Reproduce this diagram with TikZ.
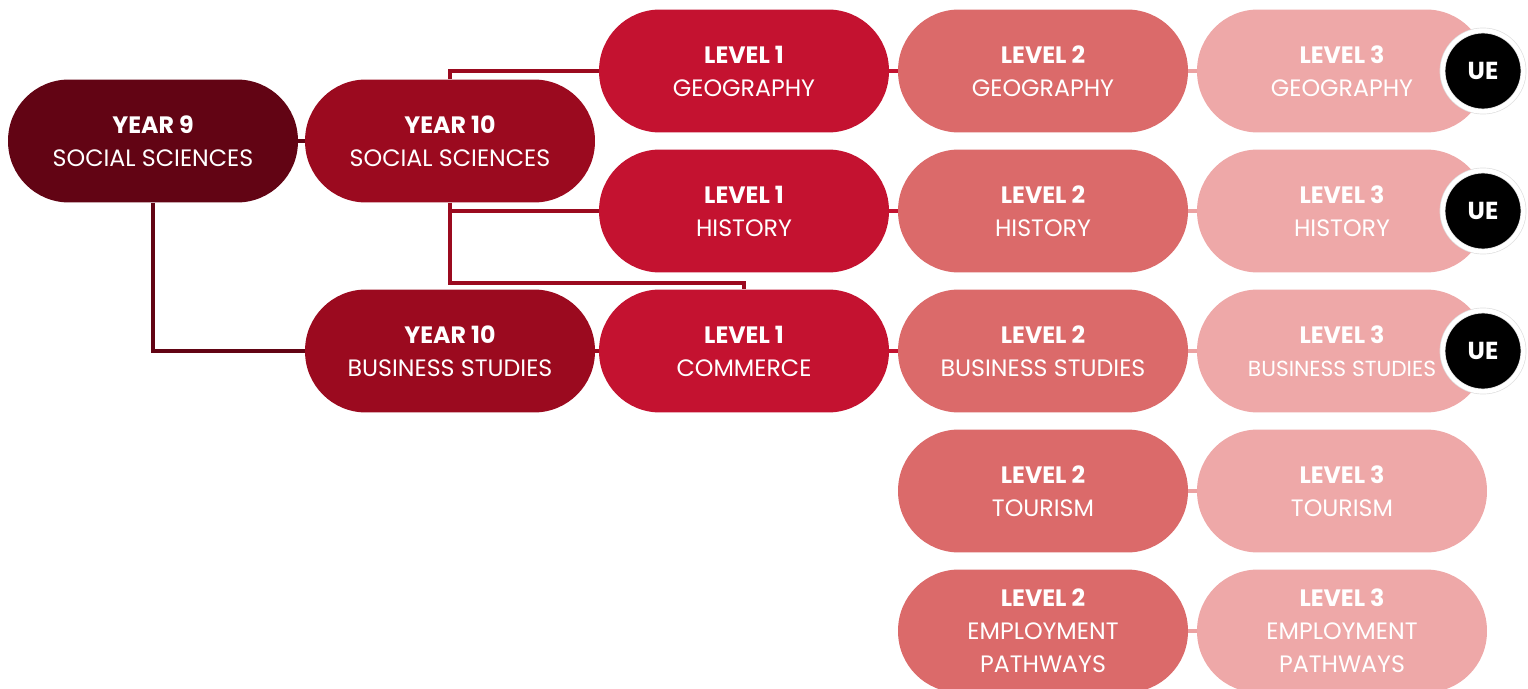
\documentclass[tikz,border=0pt]{standalone}
\usepackage{fontspec}
\setmainfont{Poppins}
\definecolor{yearnine}{HTML}{620414}
\definecolor{yearten}{HTML}{9B0A1F}
\definecolor{levone}{HTML}{C41230}
\definecolor{levtwo}{HTML}{DB6A6A}
\definecolor{levthree}{HTML}{EEA8A8}
\tikzset{
  pill/.style={rectangle, rounded corners=1.22cm, minimum width=5.8cm, minimum height=2.46cm,
    text=white, align=center, inner sep=0pt,
    font=\fontsize{13.5}{18.8}\selectfont},
  ue/.style={circle, fill=black, draw=gray!25, double=white, double distance=2.5pt,
    minimum size=1.62cm, inner sep=0pt, text=white, font=\fontsize{14}{16}\selectfont\bfseries},
  link/.style={line width=2.8pt}
}
\newcommand{\pilltext}[2]{\textbf{#1}\\#2}
\begin{document}
\begin{tikzpicture}[x=0.02cm,y=-0.02cm]
\useasboundingbox (0,0) rectangle (1528,689);
% year 9 and 10
\node[pill,fill=yearnine] (y9) at (153,141) {\pilltext{YEAR 9}{SOCIAL SCIENCES}};
\node[pill,fill=yearten] (y10s) at (450,141) {\pilltext{YEAR 10}{SOCIAL SCIENCES}};
\node[pill,fill=yearten] (y10b) at (450,351) {\pilltext{YEAR 10}{BUSINESS STUDIES}};
% level 1
\node[pill,fill=levone] (geo1) at (744,71) {\pilltext{LEVEL 1}{GEOGRAPHY}};
\node[pill,fill=levone] (hist1) at (744,211) {\pilltext{LEVEL 1}{HISTORY}};
\node[pill,fill=levone] (com1) at (744,351) {\pilltext{LEVEL 1}{COMMERCE}};
% level 2
\node[pill,fill=levtwo] (geo2) at (1043,71) {\pilltext{LEVEL 2}{GEOGRAPHY}};
\node[pill,fill=levtwo] (hist2) at (1043,211) {\pilltext{LEVEL 2}{HISTORY}};
\node[pill,fill=levtwo] (bus2) at (1043,351) {\pilltext{LEVEL 2}{BUSINESS STUDIES}};
\node[pill,fill=levtwo] (tour2) at (1043,491) {\pilltext{LEVEL 2}{TOURISM}};
\node[pill,fill=levtwo] (emp2) at (1043,631) {\pilltext{LEVEL 2}{EMPLOYMENT\\PATHWAYS}};
% level 3
\node[pill,fill=levthree] (geo3) at (1342,71) {\pilltext{LEVEL 3}{GEOGRAPHY}};
\node[pill,fill=levthree] (hist3) at (1342,211) {\pilltext{LEVEL 3}{HISTORY}};
\node[pill,fill=levthree] (bus3) at (1342,351) {\pilltext{LEVEL 3}{\fontsize{12.4}{18.8}\selectfont BUSINESS STUDIES}};
\node[pill,fill=levthree] (tour3) at (1342,491) {\pilltext{LEVEL 3}{TOURISM}};
\node[pill,fill=levthree] (emp3) at (1342,631) {\pilltext{LEVEL 3}{EMPLOYMENT\\PATHWAYS}};
% UE badges
\node[ue] (ue1) at (1483,71) {UE};
\node[ue] (ue2) at (1483,211) {UE};
\node[ue] (ue3) at (1483,351) {UE};
% links
\coordinate (jn) at (450,283);
\draw[link,yearnine] (y9) -- (y10s);
\draw[link,yearnine] (y9.south) |- (y10b.west);
\draw[link,yearten] (y10s.north) |- (geo1.west);
\draw[link,yearten] (y10s.south) |- (hist1.west);
\draw[link,yearten] (y10s.south) -- (jn) -| (com1.north);
\draw[link,yearten] (y10b) -- (com1);
\draw[link,levone] (geo1) -- (geo2);
\draw[link,levone] (hist1) -- (hist2);
\draw[link,levone] (com1) -- (bus2);
\draw[link,levthree!90!levtwo] (geo2) -- (geo3);
\draw[link,levthree!90!levtwo] (hist2) -- (hist3);
\draw[link,levthree!90!levtwo] (bus2) -- (bus3);
\draw[link,levthree!90!levtwo] (tour2) -- (tour3);
\draw[link,levthree!90!levtwo] (emp2) -- (emp3);
\end{tikzpicture}
\end{document}
